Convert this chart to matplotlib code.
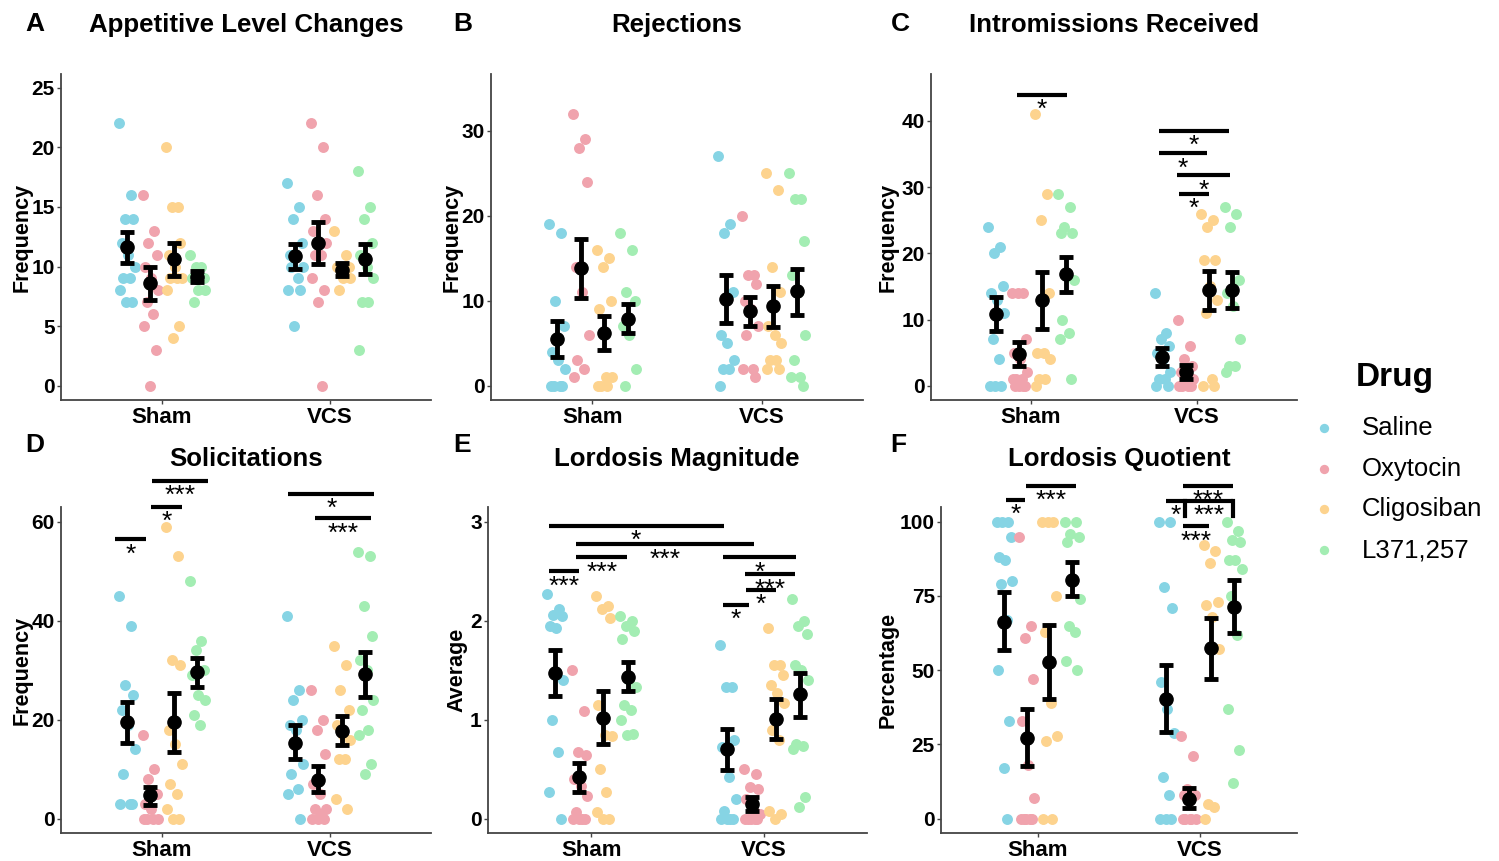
import matplotlib.pyplot as plt
import numpy as np

plt.rcParams['font.family'] = ['Liberation Sans', 'DejaVu Sans']

W, H = 1499, 861

groups = ['Sham', 'VCS']
drugs = ['Saline', 'Oxytocin', 'Cligosiban', 'L371,257']
colours = ['#86D4E4', '#F0A3AD', '#FDD38E', '#A3EDB3']

# A - appetitive level changes (one list per drug)
appetitive_sham = [[22, 16, 14, 14, 12, 11, 10, 9, 9, 8, 7, 7],
                   [16, 13, 12, 11, 10, 9, 8, 7, 6, 5, 3, 0],
                   [20, 15, 15, 12, 11, 10, 9, 9, 9, 8, 5, 4],
                   [11, 10, 10, 9, 9, 8, 8, 7]]
appetitive_vcs = [[17, 15, 14, 12, 11, 11, 10, 10, 9, 8, 8, 5],
                  [22, 20, 16, 14, 13, 12, 12, 11, 11, 9, 8, 7, 0],
                  [13, 11, 10, 10, 10, 9, 9, 8],
                  [18, 15, 14, 12, 11, 10, 9, 7, 7, 3]]
# mean / error bar ends, Sham drugs then VCS drugs
appetitive_mean = [11.6, 8.6, 10.6, 9.1, 10.9, 12.0, 9.7, 10.6]
appetitive_lo = [10.3, 7.2, 9.2, 8.7, 9.8, 10.2, 9.2, 9.4]
appetitive_hi = [12.9, 10.0, 12.0, 9.6, 11.9, 13.7, 10.3, 11.9]

# B - rejections
rejections_sham = [[19, 18, 10, 7, 4, 3, 2, 0, 0, 0, 0],
                   [32, 29, 28, 24, 14, 11, 6, 3, 2, 1],
                   [16, 15, 14, 10, 9, 1, 1, 0, 0, 0],
                   [18, 16, 11, 10, 7, 6, 2, 0]]
rejections_vcs = [[27, 19, 18, 11, 6, 5, 3, 2, 2, 0],
                  [20, 13, 13, 12, 10, 9, 7, 6, 2, 2, 1],
                  [25, 23, 14, 11, 7, 6, 5, 3, 3, 2, 2],
                  [25, 22, 22, 17, 13, 11, 6, 3, 1, 1, 0]]
rejections_mean = [5.45, 13.8, 6.2, 7.9, 10.2, 8.8, 9.4, 11.1]
rejections_lo = [3.4, 10.35, 4.2, 6.2, 7.4, 7.0, 6.9, 8.3]
rejections_hi = [7.6, 17.25, 8.2, 9.6, 13.0, 10.4, 11.7, 13.7]

# C - intromissions received
intromissions_sham = [[24, 21, 20, 15, 14, 13, 11, 7, 4, 0, 0, 0],
                      [14, 14, 14, 7, 5, 4, 2, 1, 1, 1, 0, 0, 0, 0],
                      [41, 29, 25, 14, 5, 5, 4, 1, 1, 0],
                      [29, 27, 24, 23, 23, 17, 16, 10, 8, 7, 1]]
intromissions_vcs = [[14, 8, 7, 6, 5, 4, 2, 1, 1, 0, 0],
                     [10, 6, 4, 3, 2, 1, 1, 0, 0, 0, 0],
                     [26, 25, 24, 19, 19, 15, 13, 11, 1, 0, 0],
                     [27, 26, 24, 16, 14, 12, 7, 3, 3, 2]]
intromissions_mean = [10.8, 4.8, 12.9, 16.9, 4.3, 2.1, 14.4, 14.4]
intromissions_lo = [8.3, 3.0, 8.6, 14.1, 3.0, 1.0, 11.5, 11.7]
intromissions_hi = [13.35, 6.65, 17.2, 19.5, 5.7, 3.1, 17.3, 17.2]

# D - solicitations
solicitations_sham = [[45, 39, 27, 25, 22, 19, 14, 9, 3, 3, 3],
                      [17, 10, 8, 5, 3, 2, 0, 0, 0, 0],
                      [59, 53, 32, 31, 18, 15, 11, 7, 5, 2, 0, 0],
                      [48, 36, 34, 30, 29, 25, 24, 21, 19]]
solicitations_vcs = [[41, 26, 24, 20, 19, 18, 11, 9, 6, 5, 0],
                     [26, 20, 18, 13, 7, 5, 2, 2, 1, 0, 0, 0],
                     [35, 31, 26, 22, 19, 17, 16, 12, 12, 4, 2],
                     [54, 53, 43, 37, 32, 30, 24, 22, 18, 17, 11, 9]]
solicitations_mean = [19.5, 4.8, 19.5, 29.6, 15.35, 7.9, 17.8, 29.2]
solicitations_lo = [15.35, 2.8, 13.5, 26.7, 12.0, 5.3, 14.95, 24.5]
solicitations_hi = [23.6, 6.5, 25.5, 32.5, 18.9, 10.7, 20.8, 33.7]

# E - lordosis magnitude
magnitude_sham = [[2.27, 2.12, 2.06, 2.05, 1.95, 1.93, 1.4, 1.0, 0.67, 0.27, 0],
                  [1.5, 1.09, 0.67, 0.64, 0.4, 0.33, 0.23, 0.07, 0, 0, 0, 0],
                  [2.25, 2.15, 2.12, 2.03, 1.15, 0.85, 0.84, 0.5, 0.27, 0.07, 0, 0],
                  [2.05, 2.0, 1.95, 1.9, 1.82, 1.4, 1.33, 1.15, 1.1, 1.0, 0.86, 0.85]]
magnitude_vcs = [[1.75, 1.33, 1.33, 0.8, 0.72, 0.42, 0.2, 0.08, 0, 0, 0, 0],
                 [0.5, 0.45, 0.32, 0.3, 0.2, 0.1, 0.05, 0, 0, 0, 0, 0],
                 [1.93, 1.55, 1.55, 1.45, 1.35, 1.27, 1.17, 0.9, 0.8, 0.08, 0.05, 0],
                 [2.22, 2.0, 1.95, 1.87, 1.55, 1.5, 1.4, 0.75, 0.73, 0.7, 0.22, 0.12]]
magnitude_mean = [1.47, 0.42, 1.02, 1.43, 0.70, 0.15, 1.01, 1.26]
magnitude_lo = [1.24, 0.27, 0.75, 1.29, 0.49, 0.08, 0.81, 1.03]
magnitude_hi = [1.70, 0.56, 1.29, 1.58, 0.91, 0.215, 1.21, 1.47]

# F - lordosis quotient
quotient_sham = [[100, 100, 100, 95, 88, 87, 80, 79, 67, 50, 33, 17, 0],
                 [95, 65, 61, 47, 33, 18, 7, 0, 0, 0, 0, 0],
                 [100, 100, 100, 75, 63, 39, 28, 26, 0, 0],
                 [100, 100, 96, 95, 93, 80, 74, 65, 63, 53, 50]]
quotient_vcs = [[100, 100, 78, 71, 46, 37, 29, 14, 8, 0, 0, 0],
                [28, 21, 10, 8, 8, 0, 0, 0, 0, 0],
                [92, 90, 86, 73, 72, 68, 57, 5, 4, 0],
                [100, 97, 94, 93, 87, 87, 84, 75, 62, 37, 23, 12]]
quotient_mean = [66.3, 27.2, 52.6, 80.5, 40.3, 6.8, 57.4, 71.2]
quotient_lo = [56.8, 17.8, 40.4, 75.0, 29.3, 3.5, 47.2, 62.4]
quotient_hi = [76.3, 37.0, 65.1, 86.3, 51.7, 10.2, 67.5, 80.4]

# significance bars: (x start, x end, y, label)
sig_C = [(0.916, 1.216, 44.0, '*'), (1.772, 2.192, 38.5, '*'), (1.772, 2.06, 35.1, '*'),
         (1.88, 2.2, 31.8, '*'), (1.892, 2.072, 29.0, '*')]
sig_D = [(0.724, 0.903, 56.5, '*'), (0.938, 1.117, 63.0, '*'), (0.944, 1.276, 68.3, '***'),
         (1.752, 2.262, 65.6, '*'), (1.911, 2.242, 60.7, '***')]
sig_E = [(0.752, 1.768, 2.96, '*'), (0.913, 1.942, 2.77, '***'), (0.913, 1.207, 2.64, '***'),
         (0.756, 0.93, 2.50, '***'), (1.764, 2.19, 2.64, '*'), (1.89, 2.18, 2.47, '***'),
         (1.897, 2.071, 2.31, '*'), (1.764, 1.913, 2.16, '*')]
sig_F = [(0.8, 0.918, 107.3, '*'), (0.928, 1.237, 112.1, '***'), (1.895, 2.204, 112.0, '***'),
         (1.79, 1.907, 107.0, '*'), (1.907, 2.204, 107.0, '***'), (1.895, 2.056, 98.5, '***')]
ticks_F = [(1.907, 107.0, 101.9), (2.204, 107.0, 101.9)]

dodge = [-0.21, -0.07, 0.07, 0.21]
jitter = np.array([-0.9, 0.5, -0.2, 0.8, -0.6, 0.15, 0.95, -0.4, 0.35, -0.75, 0.65, -0.05, 0.4, -0.5])

fig = plt.figure(figsize=(W / 100, H / 100), dpi=100)


def px_axes(left, right, top, bottom):
    return fig.add_axes([left / W, 1 - bottom / H, (right - left) / W, (bottom - top) / H])


def panel(box, sham, vcs, mean, lo, hi, ylim, yticks, sig=(), ticks=()):
    ax = px_axes(*box)
    for g, values in enumerate([sham, vcs]):
        for d in range(4):
            vals = np.array(values[d], dtype=float)
            x = g + 1 + dodge[d] + jitter[:len(vals)] * 0.05
            ax.scatter(x, vals, s=62, color=colours[d], linewidths=0, zorder=2)
    xs = [g + 1 + dodge[d] for g in range(2) for d in range(4)]
    mean = np.array(mean)
    ax.errorbar(xs, mean, yerr=[mean - np.array(lo), np.array(hi) - mean], fmt='o',
                color='black', ms=9.5, elinewidth=3.5, capsize=4.8, capthick=3.5, zorder=3)
    for x1, x2, y, lab in sig:
        ax.plot([x1, x2], [y, y], color='black', lw=3, solid_capstyle='butt',
                clip_on=False, zorder=4)
        ax.annotate(lab, ((x1 + x2) / 2, y), xytext=(0, -16),
                    textcoords='offset points', ha='center', va='baseline',
                    fontsize=19, annotation_clip=False)
    for x, y1, y2 in ticks:
        ax.plot([x, x], [y1, y2], color='black', lw=3, clip_on=False, zorder=4)
    ax.set_xlim(0.4, 2.6)
    ax.set_ylim(*ylim)
    ax.set_xticks([1, 2])
    ax.set_xticklabels(groups)
    ax.set_yticks(yticks)
    for s in ['top', 'right']:
        ax.spines[s].set_visible(False)
    for s in ['left', 'bottom']:
        ax.spines[s].set_color('#444444')
        ax.spines[s].set_linewidth(1.3)
    ax.tick_params(axis='both', colors='#444444', length=3, width=1)
    ax.tick_params(axis='y', labelsize=15, labelcolor='black', pad=1.5)
    ax.tick_params(axis='x', labelsize=16, labelcolor='black', pad=2)
    for t in ax.get_xticklabels() + ax.get_yticklabels():
        t.set_fontweight('bold')
    return ax


panel((61, 431, 74, 400), appetitive_sham, appetitive_vcs, appetitive_mean,
      appetitive_lo, appetitive_hi, (-1.2, 26.15), [0, 5, 10, 15, 20, 25])
panel((491, 863, 74, 400), rejections_sham, rejections_vcs, rejections_mean,
      rejections_lo, rejections_hi, (-1.68, 36.67), [0, 10, 20, 30])
panel((931, 1297, 74, 400), intromissions_sham, intromissions_vcs, intromissions_mean,
      intromissions_lo, intromissions_hi, (-2.16, 47.1), [0, 10, 20, 30, 40], sig_C)
panel((61, 431, 507, 833), solicitations_sham, solicitations_vcs, solicitations_mean,
      solicitations_lo, solicitations_hi, (-2.89, 63.0), [0, 20, 40, 60], sig_D)
panel((488, 867, 507, 833), magnitude_sham, magnitude_vcs, magnitude_mean,
      magnitude_lo, magnitude_hi, (-0.144, 3.148), [0, 1, 2, 3], sig_E)
panel((941, 1297, 507, 833), quotient_sham, quotient_vcs, quotient_mean,
      quotient_lo, quotient_hi, (-4.81, 104.95), [0, 25, 50, 75, 100], sig_F, ticks_F)

# titles, panel letters, y labels
titles = [('A', 25, 24, 'Appetitive Level Changes', 246, 'Frequency', 22, 237),
          ('B', 453, 24, 'Rejections', 677, 'Frequency', 452, 237),
          ('C', 891, 24, 'Intromissions Received', 1114, 'Frequency', 888, 237),
          ('D', 25, 445, 'Solicitations', 246, 'Frequency', 22, 670),
          ('E', 453, 445, 'Lordosis Magnitude', 677, 'Average', 457, 670),
          ('F', 890, 445, 'Lordosis Quotient', 1119, 'Percentage', 888, 670)]
for letter, lx, ly, title, tx, ylab, yx, yy in titles:
    fig.text(lx / W, 1 - ly / H, letter, fontsize=19, fontweight='bold', ha='left', va='center')
    ty = ly + 1 if ly < 100 else ly + 14
    fig.text(tx / W, 1 - ty / H, title, fontsize=18.6, fontweight='bold', ha='center', va='center')
    fig.text(yx / W, 1 - yy / H, ylab, fontsize=15.5, fontweight='bold', rotation=90,
             ha='center', va='center')

# legend
leg = px_axes(1300, 1499, 340, 580)
leg.set_xlim(1300, 1499)
leg.set_ylim(580, 340)
leg.axis('off')
leg.text(1356, 377, 'Drug', fontsize=24, fontweight='bold', ha='left', va='center')
for i, d in enumerate(drugs):
    y = 428 + i * 40.7
    leg.scatter([1324], [y], s=45, color=colours[i], linewidths=0)
    leg.text(1362, y, d, fontsize=18.5, ha='left', va='center')

fig.savefig('out.png', dpi=100)
